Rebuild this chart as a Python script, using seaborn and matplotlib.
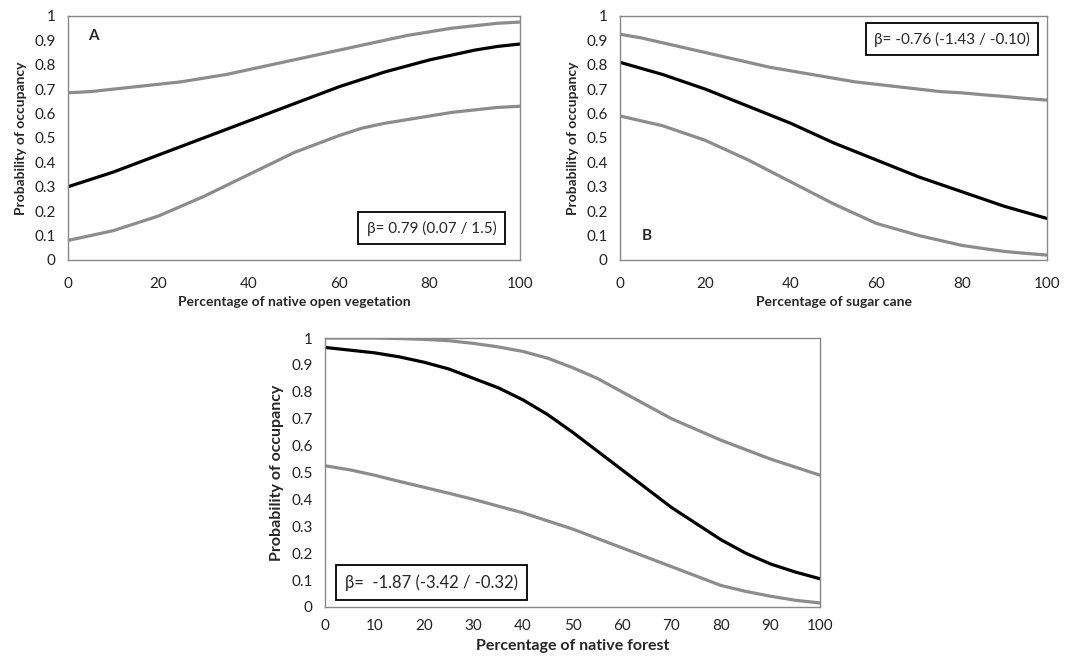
import pandas as pd
import matplotlib.pyplot as plt
import seaborn as sns

sns.set_style("white")
plt.rcParams['font.family'] = ['Lato', 'DejaVu Sans']

# ---------------- data ----------------
x_pct = [0, 5, 10, 15, 20, 25, 30, 35, 40, 45, 50, 55, 60, 65, 70, 75, 80, 85, 90, 95, 100]

a_mean = [0.30, 0.33, 0.36, 0.395, 0.43, 0.465, 0.50, 0.535, 0.57, 0.605, 0.64,
          0.675, 0.71, 0.74, 0.77, 0.795, 0.82, 0.84, 0.86, 0.875, 0.885]
a_upper = [0.685, 0.69, 0.70, 0.71, 0.72, 0.73, 0.745, 0.76, 0.78, 0.80, 0.82,
           0.84, 0.86, 0.88, 0.90, 0.92, 0.935, 0.95, 0.96, 0.97, 0.975]
a_lower = [0.08, 0.10, 0.12, 0.15, 0.18, 0.22, 0.26, 0.305, 0.35, 0.395, 0.44,
           0.475, 0.51, 0.54, 0.56, 0.575, 0.59, 0.605, 0.615, 0.625, 0.63]

b_mean = [0.81, 0.785, 0.76, 0.73, 0.70, 0.665, 0.63, 0.595, 0.56, 0.52, 0.48,
          0.445, 0.41, 0.375, 0.34, 0.31, 0.28, 0.25, 0.22, 0.195, 0.17]
b_upper = [0.925, 0.91, 0.89, 0.87, 0.85, 0.83, 0.81, 0.79, 0.775, 0.76, 0.745,
           0.73, 0.72, 0.71, 0.70, 0.69, 0.685, 0.677, 0.67, 0.662, 0.655]
b_lower = [0.59, 0.57, 0.55, 0.52, 0.49, 0.45, 0.41, 0.365, 0.32, 0.275, 0.23,
           0.19, 0.15, 0.125, 0.10, 0.08, 0.06, 0.047, 0.035, 0.027, 0.02]

c_mean = [0.965, 0.955, 0.945, 0.93, 0.91, 0.885, 0.85, 0.815, 0.77, 0.715, 0.65,
          0.58, 0.51, 0.44, 0.37, 0.31, 0.25, 0.20, 0.16, 0.13, 0.105]
c_upper = [1.0, 1.0, 1.0, 0.998, 0.995, 0.99, 0.98, 0.967, 0.95, 0.925, 0.89,
           0.85, 0.80, 0.75, 0.70, 0.66, 0.62, 0.585, 0.55, 0.52, 0.49]
c_lower = [0.525, 0.51, 0.49, 0.467, 0.445, 0.423, 0.40, 0.375, 0.35, 0.32, 0.29,
           0.255, 0.22, 0.185, 0.15, 0.115, 0.08, 0.058, 0.04, 0.025, 0.015]

y_ticks = [0, 0.1, 0.2, 0.3, 0.4, 0.5, 0.6, 0.7, 0.8, 0.9, 1]
y_labels = ['0', '0.1', '0.2', '0.3', '0.4', '0.5', '0.6', '0.7', '0.8', '0.9', '1']

GRAY = '#8c8c8c'


def draw_panel(ax, mean, upper, lower, xlabel, xticks, fs_lab, fs_tick):
    df = pd.DataFrame({'x': x_pct, 'mean': mean, 'upper': upper, 'lower': lower})
    sns.lineplot(data=df, x='x', y='upper', color=GRAY, lw=2.3, ax=ax)
    sns.lineplot(data=df, x='x', y='lower', color=GRAY, lw=2.3, ax=ax)
    sns.lineplot(data=df, x='x', y='mean', color='black', lw=2.3, ax=ax)
    ax.set_xlim(0, 100)
    ax.set_ylim(0, 1)
    ax.set_xticks(xticks)
    ax.set_xticklabels([str(t) for t in xticks], fontsize=fs_tick, color='#222222')
    ax.set_yticks(y_ticks)
    ax.set_yticklabels(y_labels, fontsize=fs_tick, color='#222222')
    ax.tick_params(axis='x', length=0, pad=12)
    ax.tick_params(axis='y', length=0, pad=9)
    ax.set_xlabel(xlabel, fontsize=fs_lab, fontweight='bold', labelpad=4)
    ax.set_ylabel('Probability of occupancy', fontsize=fs_lab, fontweight='bold', labelpad=5)
    for s in ax.spines.values():
        s.set_color('#888888')
        s.set_linewidth(1.0)


fig = plt.figure(figsize=(10.91, 6.62), dpi=100)

box = dict(boxstyle='square,pad=0.55', fc='white', ec='black', lw=1.3)

# Panel A
axA = fig.add_axes([0.0623, 0.6073, 0.4143, 0.3686])
draw_panel(axA, a_mean, a_upper, a_lower, 'Percentage of native open vegetation',
           [0, 20, 40, 60, 80, 100], 10, 11)
axA.text(0.045, 0.9, 'A', transform=axA.transAxes, fontsize=11, fontweight='bold')
axA.text(0.948, 0.131, 'β= 0.79 (0.07 / 1.5)', transform=axA.transAxes,
         fontsize=11, ha='right', va='center', bbox=box)

# Panel B
axB = fig.add_axes([0.5683, 0.6073, 0.3914, 0.3686])
draw_panel(axB, b_mean, b_upper, b_lower, 'Percentage of sugar cane',
           [0, 20, 40, 60, 80, 100], 10, 11)
axB.text(0.05, 0.08, 'B', transform=axB.transAxes, fontsize=11, fontweight='bold')
axB.text(0.96, 0.904, 'β= -0.76 (-1.43 / -0.10)', transform=axB.transAxes,
         fontsize=11, ha='right', va='center', bbox=box)

# Panel C
axC = fig.add_axes([0.2979, 0.0831, 0.4537, 0.4063])
draw_panel(axC, c_mean, c_upper, c_lower, 'Percentage of native forest',
           list(range(0, 101, 10)), 11.5, 11)
axC.tick_params(axis='x', pad=9)
axC.text(0.04, 0.09, 'β=  -1.87 (-3.42 / -0.32)', transform=axC.transAxes,
         fontsize=12, ha='left', va='center', bbox=box)

fig.savefig('out.png', dpi=100)
